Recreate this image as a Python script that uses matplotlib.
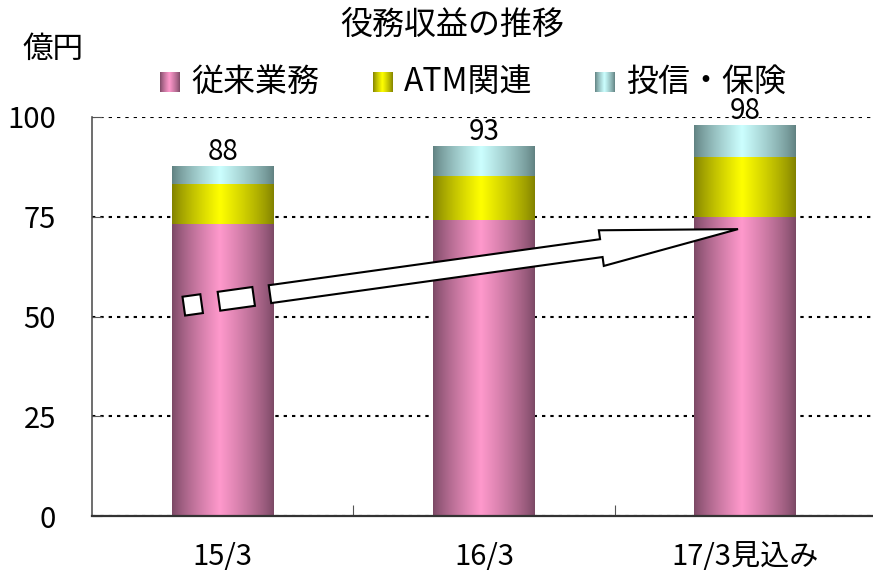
import numpy as np
import matplotlib
matplotlib.use("Agg")
import matplotlib.pyplot as plt
from matplotlib.patches import Polygon
from matplotlib.transforms import IdentityTransform

plt.rcParams["font.family"] = ["Noto Sans CJK JP", "DejaVu Sans"]

# fee income by segment, 億円
periods = ["15/3", "16/3", "17/3見込み"]
series_names = ["従来業務", "ATM関連", "投信・保険"]
conventional = [73.2, 74.2, 75.0]
atm = [10.0, 10.9, 15.0]
trust_insurance = [4.6, 7.6, 8.0]
y_ticks = [0, 25, 50, 75, 100]

# centre colour and darkened edge colour of each shaded fill
base_colors = [(255, 153, 204), (255, 255, 0), (204, 255, 255)]
edge_colors = [(122, 72, 100), (128, 128, 0), (96, 128, 128)]

W, H = 873, 577


def shade(base, edge, n=256, peak=0.47):
    """One-row RGB strip: dark at both sides, base colour near the middle."""
    t = np.linspace(0, 1, n)
    w = np.where(t < peak, t / peak, (1 - t) / (1 - peak)) ** 0.8
    b = np.array(base) / 255
    e = np.array(edge) / 255
    return (e + (b - e) * w[:, None])[None, :, :]


fig = plt.figure(figsize=(W / 100, H / 100), dpi=100)
ax = fig.add_axes([92 / W, 61 / H, 784 / W, 399 / H])

x = np.arange(len(periods))
bottom = np.zeros(len(periods))
for vals, base, edge in zip([conventional, atm, trust_insurance], base_colors, edge_colors):
    bars = ax.bar(x, vals, width=0.39, bottom=bottom, color="none", linewidth=0, zorder=2)
    strip = shade(base, edge)
    for p in bars.patches:
        im = ax.imshow(strip, extent=(p.get_x(), p.get_x() + p.get_width(),
                                      p.get_y(), p.get_y() + p.get_height()),
                       aspect="auto", interpolation="bilinear", zorder=2)
        im.set_clip_path(p)
    bottom += np.array(vals)

for xi, total in zip(x, bottom):
    ax.text(xi, total - 0.3, f"{total:.0f}", ha="center", va="bottom", fontsize=20, zorder=4)

ax.set_xlim(-0.5, 2.5)
ax.set_ylim(0, 100)

ax.set_yticks(y_ticks)
ax.tick_params(axis="y", direction="in", length=7, pad=26, labelsize=21, color="#555555")
ax.set_xticks([0.5, 1.5], labels=["", ""])
ax.set_xticks(x, labels=periods, minor=True)
ax.tick_params(axis="x", which="major", direction="in", length=8, color="#555555")
ax.tick_params(axis="x", which="minor", length=0, pad=19, labelsize=21)

ax.grid(axis="y", color="black", linestyle=(0, (1.6, 2.4)), linewidth=1.5, zorder=1)
ax.set_axisbelow(True)
for side in ("top", "right"):
    ax.spines[side].set_visible(False)
ax.spines["left"].set_color("#555555")
ax.spines["left"].set_linewidth(1.2)
ax.spines["bottom"].set_color("#333333")
ax.spines["bottom"].set_linewidth(1.6)

# growth arrow with broken tail, built in pixel space along the start->tip axis
start = ax.transData.transform((0.181, 55.6))
tip = ax.transData.transform((1.972, 71.9))
u = (tip - start) / np.linalg.norm(tip - start)
nrm = np.array([-u[1], u[0]])
L = np.linalg.norm(tip - start)


def along(a, p):
    return start + a * u + p * nrm


head = 138
body = [along(0, 9), along(L - head, 9), along(L - head, 18), along(L, 0),
        along(L - head, -18), along(L - head, -9), along(0, -9)]
ax.add_patch(Polygon(body, closed=True, facecolor="white", edgecolor="black",
                     linewidth=1.5, transform=IdentityTransform(), zorder=5))
for a0, a1 in [(-51.5, -16.5), (-87, -69)]:
    box = [along(a0, 9.5), along(a1, 9.5), along(a1, -9.5), along(a0, -9.5)]
    ax.add_patch(Polygon(box, closed=True, facecolor="white", edgecolor="black",
                         linewidth=1.5, transform=IdentityTransform(), zorder=5))

# header texts and legend row
fig.text(452 / W, 1 - 25 / H, "役務収益の推移", ha="center", va="center", fontsize=23)
fig.text(22 / W, 1 - 49 / H, "億円", ha="left", va="center", fontsize=22)
for name, base, edge, sx in zip(series_names, base_colors, edge_colors, [160, 373, 595]):
    sq = fig.add_axes([sx / W, 1 - 92 / H, 20 / W, 20 / H])
    sq.imshow(shade(base, edge), aspect="auto", interpolation="bilinear")
    sq.set_axis_off()
    fig.text((sx + 31) / W, 1 - 82 / H, name, ha="left", va="center", fontsize=23)

fig.savefig("out.png", dpi=100)
